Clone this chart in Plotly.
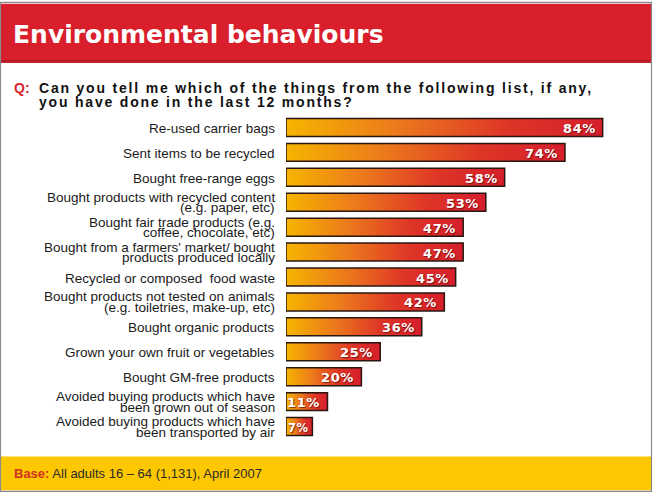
import plotly.graph_objects as go

# Survey answers (share of adults, %)
categories = [
    "Re-used carrier bags",
    "Sent items to be recycled",
    "Bought free-range eggs",
    "Bought products with recycled content<br>(e.g. paper, etc)",
    "Bought fair trade products (e.g.<br>coffee, chocolate, etc)",
    "Bought from a farmers' market/ bought<br>products produced locally",
    "Recycled or composed  food waste",
    "Bought products not tested on animals<br>(e.g. toiletries, make-up, etc)",
    "Bought organic products",
    "Grown your own fruit or vegetables",
    "Bought GM-free products",
    "Avoided buying products which have<br>been grown out of season",
    "Avoided buying products which have<br>been transported by air",
]
values = [84, 74, 58, 53, 47, 47, 45, 42, 36, 25, 20, 11, 7]
value_labels = [f"{v}%" for v in values]

title_text = "Environmental behaviours"
question_lines = [
    "Can you tell me which of the things from the following list, if any,",
    "you have done in the last 12 months?",
]
base_text = "All adults 16 \u2013 64 (1,131), April 2007"

# Canvas and plot-area geometry (pixels)
W, H = 654, 496
L, R, T, B = 286, 14, 114.5, 56.5
PW = W - L - R
PH = H - T - B
PX_PER_PCT = 3.77


def px_x(px):
    return (px - L) / PW


def px_y(py):
    return (H - B - py) / PH


RED = "#d91f2b"
YELLOW = "#fdc800"
bar_scale = [
    [0.0, "#f6b500"],
    [0.35, "#ec7a1c"],
    [0.7, "#de3527"],
    [1.0, "#d61e2c"],
]

fig = go.Figure()

half = 0.36
for i, v in enumerate(values):
    fig.add_trace(go.Scatter(
        x=[0, v, v, 0, 0],
        y=[i - half, i - half, i + half, i + half, i - half],
        mode="lines",
        fill="toself",
        fillgradient=dict(type="horizontal", colorscale=bar_scale),
        line=dict(color="#2a1712", width=1.5),
        hoverinfo="skip",
        showlegend=False,
    ))

# Value labels inside the bar ends
for i, (v, lab) in enumerate(zip(values, value_labels)):
    fig.add_annotation(
        x=v, y=i, xref="x", yref="y",
        text=f"<span style='letter-spacing:0.6px'>{lab}</span>",
        showarrow=False, xanchor="right", yanchor="middle",
        xshift=-5 if v > 10 else -1, yshift=-1,
        font=dict(family="DejaVu Sans", size=13 if v > 10 else 11.5,
                  color="white", weight="bold",
                  shadow="1px 1px 1px rgba(80,10,10,0.7)"),
    )

# Category labels, one annotation per line for tight line spacing
for i, cat in enumerate(categories):
    lines = cat.split("<br>")
    shifts = [-1] if len(lines) == 1 else [5, -5.5]
    for line, s in zip(lines, shifts):
        fig.add_annotation(
            x=px_x(277), y=i, xref="paper", yref="y", text=line,
            showarrow=False, xanchor="right", yanchor="middle", yshift=s,
            font=dict(family="Liberation Sans", size=13.5, color="#1a1a1a"),
        )

shapes = [
    # header band
    dict(type="rect", xref="paper", yref="paper", layer="below",
         x0=px_x(0), x1=px_x(651), y0=px_y(62), y1=px_y(3),
         fillcolor=RED, line=dict(width=0)),
    dict(type="line", xref="paper", yref="paper", layer="below",
         x0=px_x(0), x1=px_x(651), y0=px_y(60.5), y1=px_y(60.5),
         line=dict(color="#b91a24", width=3)),
    # footer band
    dict(type="rect", xref="paper", yref="paper", layer="below",
         x0=px_x(0), x1=px_x(651), y0=px_y(491), y1=px_y(457),
         fillcolor=YELLOW, line=dict(width=0)),
    # outer frame
    dict(type="rect", xref="paper", yref="paper", layer="above",
         x0=px_x(0.5), x1=px_x(651.5), y0=px_y(492), y1=px_y(1.5),
         fillcolor="rgba(0,0,0,0)", line=dict(color="#8a8a8a", width=1.2)),
]

annotations_extra = [
    dict(x=px_x(11), y=px_y(34), xref="paper", yref="paper",
         text=title_text, showarrow=False, xanchor="left", yanchor="middle",
         font=dict(family="DejaVu Sans", size=25, color="white", weight="bold")),
    dict(x=px_x(12), y=px_y(87), xref="paper", yref="paper",
         text="Q:", showarrow=False, xanchor="left", yanchor="middle",
         font=dict(family="Liberation Sans", size=14, color=RED, weight="bold")),
    dict(x=px_x(12), y=px_y(474), xref="paper", yref="paper",
         text=f"<span style='color:#d2321e'><b>Base:</b></span> {base_text}",
         showarrow=False, xanchor="left", yanchor="middle",
         font=dict(family="Liberation Sans", size=13, color="#2a2a2a")),
]
for k, line in enumerate(question_lines):
    annotations_extra.append(dict(
        x=px_x(37), y=px_y(87 + 14 * k), xref="paper", yref="paper",
        text=f"<span style='letter-spacing:1.8px'>{line}</span>",
        showarrow=False, xanchor="left", yanchor="middle",
        font=dict(family="Liberation Sans", size=14, color="#111111", weight="bold")))

for a in annotations_extra:
    fig.add_annotation(**a)

fig.update_layout(
    width=W, height=H,
    margin=dict(l=L, r=R, t=T, b=B, pad=0),
    paper_bgcolor="white",
    plot_bgcolor="white",
    shapes=shapes,
    showlegend=False,
    xaxis=dict(range=[0, PW / PX_PER_PCT], visible=False, fixedrange=True),
    yaxis=dict(range=[len(values) - 0.5, -0.5], visible=False, fixedrange=True),
)

fig.write_html("out.html")
